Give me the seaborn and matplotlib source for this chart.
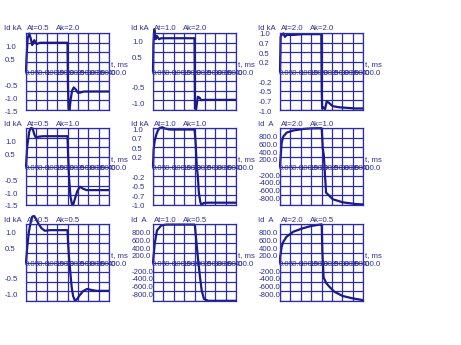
import numpy as np
import pandas as pd
import matplotlib
matplotlib.use("Agg")
import matplotlib.pyplot as plt
from matplotlib.transforms import offset_copy
import seaborn as sns

sns.set_theme(style="white")
plt.rcParams['font.family'] = ['Liberation Sans', 'DejaVu Sans']

# ---------------- data ----------------
x_ticks = [0, 50, 100, 150, 200, 250, 300, 350, 400]
x_tick_labels = ["0.0", "50.0", "100.0", "150.0", "200.0", "250.0", "300.0", "350.0", "400.0"]

units = ["Id kA", "Id kA", "Id kA", "Id kA", "Id kA", "Id  A", "Id kA", "Id  A", "Id  A"]
at_labels = ["At=0.5", "At=1.0", "At=2.0", "At=0.5", "At=1.0", "At=2.0", "At=0.5", "At=1.0", "At=2.0"]
ak_labels = ["Ak=2.0", "Ak=2.0", "Ak=2.0", "Ak=1.0", "Ak=1.0", "Ak=1.0", "Ak=0.5", "Ak=0.5", "Ak=0.5"]
y_limits = [1.5, 1.25, 1.0, 1.5, 1.0, 1000, 1.25, 1000, 1000]

yl_15_vals = [1.0, 0.5, -0.5, -1.0, -1.5]
yl_15_text = ["1.0", "0.5", "-0.5", "-1.0", "-1.5"]
yl_125_vals = [1.0, 0.5, -0.5, -1.0]
yl_125_text = ["1.0", "0.5", "-0.5", "-1.0"]
yl_10_vals = [1.0, 0.75, 0.5, 0.25, -0.25, -0.5, -0.75, -1.0]
yl_10_text = ["1.0", "0.7", "0.5", "0.2", "-0.2", "-0.5", "-0.7", "-1.0"]
yl_1000_vals = [800, 600, 400, 200, -200, -400, -600, -800]
yl_1000_text = ["800.0", "600.0", "400.0", "200.0", "-200.0", "-400.0", "-600.0", "-800.0"]

t_11 = [0, 3, 8, 16, 24, 30, 36, 40, 46, 52, 67, 200, 202, 205, 210, 215, 222, 230, 240, 250, 262, 280, 400]
i_11 = [0, 0.6, 1.3, 1.48, 1.25, 1.03, 1.15, 1.22, 1.12, 1.07, 1.12, 1.12, -0.5, -1.45, -1.5, -1.1, -0.75, -0.62, -0.7, -0.83, -0.82, -0.78, -0.78]

t_12 = [0, 2, 6, 13, 19, 29, 40, 60, 200, 202, 208, 216, 224, 232, 248, 400]
i_12 = [0, 0.9, 1.37, 1.05, 1.15, 1.05, 1.08, 1.08, 1.08, -1.2, -1.22, -0.82, -0.85, -0.93, -0.92, -0.92]

t_13 = [0, 3, 8, 16, 24, 32, 64, 111, 199, 201, 203, 209, 217, 225, 235, 254, 286, 365, 400]
i_13 = [0, 0.9, 0.95, 0.99, 0.9, 0.95, 0.95, 0.97, 0.97, -0.5, -0.96, -0.93, -0.98, -0.78, -0.81, -0.9, -0.93, -0.96, -0.96]

t_21 = [0, 6, 16, 24, 32, 40, 48, 59, 83, 200, 203, 208, 214, 221, 227, 235, 247, 260, 276, 292, 324, 400]
i_21 = [0, 0.79, 1.37, 1.5, 1.48, 1.25, 1.12, 1.16, 1.18, 1.18, 0.4, -0.5, -1.15, -1.46, -1.5, -1.28, -0.96, -0.79, -0.87, -0.92, -0.92, -0.92]

t_22 = [0, 3, 8, 16, 24, 32, 45, 56, 80, 200, 205, 211, 216, 221, 228, 234, 243, 264, 400]
i_22 = [0, 0.44, 0.66, 0.83, 0.94, 1.0, 1.02, 0.99, 0.96, 0.96, 0.66, 0.0, -0.25, -0.68, -0.92, -1.0, -0.95, -0.94, -0.94]

t_23 = [0, 1, 8, 16, 32, 64, 112, 150, 199, 201, 206, 211, 222, 230, 254, 302, 365, 400]
i_23 = [0, 100, 620, 780, 880, 935, 975, 990, 995, 990, 480, 300, -680, -720, -850, -930, -975, -985]

t_31 = [0, 6, 14, 23, 30, 39, 47, 59, 75, 91, 115, 200, 202, 207, 214, 220, 227, 236, 246, 259, 275, 294, 315, 339, 400]
i_31 = [0, 0.51, 1.0, 1.32, 1.49, 1.51, 1.43, 1.27, 1.11, 1.03, 1.05, 1.05, 0.73, 0.19, -0.35, -0.79, -1.09, -1.24, -1.19, -1.06, -0.93, -0.86, -0.89, -0.92, -0.92]

t_32 = [0, 8, 19, 39, 63, 200, 202, 210, 218, 227, 235, 246, 267, 307, 400]
i_32 = [0, 480, 830, 960, 985, 985, 948, 480, 39, -403, -740, -948, -995, -995, -995]

t_33 = [0, 1, 8, 16, 32, 64, 111, 151, 199, 201, 204, 210, 222, 238, 262, 302, 349, 397, 400]
i_33 = [0, 150, 410, 540, 670, 800, 890, 950, 990, 990, 300, -380, -530, -630, -760, -870, -930, -975, -975]

series_t = [t_11, t_12, t_13, t_21, t_22, t_23, t_31, t_32, t_33]
series_i = [i_11, i_12, i_13, i_21, i_22, i_23, i_31, i_32, i_33]
ylabel_vals = [yl_15_vals, yl_125_vals, yl_10_vals, yl_15_vals, yl_10_vals, yl_1000_vals, yl_125_vals, yl_1000_vals, yl_1000_vals]
ylabel_text = [yl_15_text, yl_125_text, yl_10_text, yl_15_text, yl_10_text, yl_1000_text, yl_125_text, yl_1000_text, yl_1000_text]

# ---------------- style / layout ----------------
W, H = 461, 345
grid_c = "#2c2caa"
line_c = "#1a1a8a"
text_c = "#2e2e96"
fs = 5.6
col_left = [26, 153, 280]
row_top = [33, 128, 224]
ax_w, ax_h = 83, 77

fig = plt.figure(figsize=(W / 100, H / 100), dpi=100)
fig.patch.set_facecolor("white")

for k in range(9):
    r, c = divmod(k, 3)
    left = col_left[c]
    top = row_top[r]
    ax = fig.add_axes([left / W, 1 - (top + ax_h) / H, ax_w / W, ax_h / H])
    lim = y_limits[k]
    df = pd.DataFrame({"t": series_t[k], "i": series_i[k]})
    sns.lineplot(data=df, x="t", y="i", ax=ax, color=line_c, linewidth=1.6,
                 sort=False, estimator=None)
    for ln in ax.lines:
        ln.set_clip_on(False)
    ax.set_xlim(0, 400)
    ax.set_ylim(-lim, lim)
    ax.set_xticks(x_ticks)
    ax.set_yticks(np.linspace(-lim, lim, 9))
    ax.grid(True, color=grid_c, linewidth=0.9)
    ax.tick_params(length=0, labelbottom=False, labelleft=False)
    ax.set_xlabel("")
    ax.set_ylabel("")
    ax.set_facecolor("white")
    for s in ax.spines.values():
        s.set_color(grid_c)
        s.set_linewidth(0.9)

    # x tick labels along the zero line
    tx = offset_copy(ax.transData, fig=fig, x=-1.5, y=1.5, units="dots")
    for xv, lab in zip(x_ticks, x_tick_labels):
        ax.text(xv, 0, lab, transform=tx, ha="left", va="top", fontsize=fs,
                color=text_c, clip_on=False)
    # axis name
    tt = offset_copy(ax.transData, fig=fig, x=2, y=7, units="dots")
    ax.text(400, 0, "t, ms", transform=tt, ha="left", va="center", fontsize=fs,
            color=text_c, clip_on=False)
    # y labels
    ty = offset_copy(ax.transData, fig=fig, x=-21, y=-2, units="dots")
    for yv, lab in zip(ylabel_vals[k], ylabel_text[k]):
        ax.text(0, yv, lab, transform=ty, ha="left", va="center", fontsize=fs,
                color=text_c, clip_on=False)
    # title pieces
    for dx, lab in [(-22, units[k]), (1, at_labels[k]), (30, ak_labels[k])]:
        tr = offset_copy(ax.transAxes, fig=fig, x=dx, y=2.5, units="dots")
        ax.text(0, 1, lab, transform=tr, ha="left", va="baseline", fontsize=fs,
                color=text_c, clip_on=False)

fig.savefig("out.png", dpi=100, facecolor="white")
